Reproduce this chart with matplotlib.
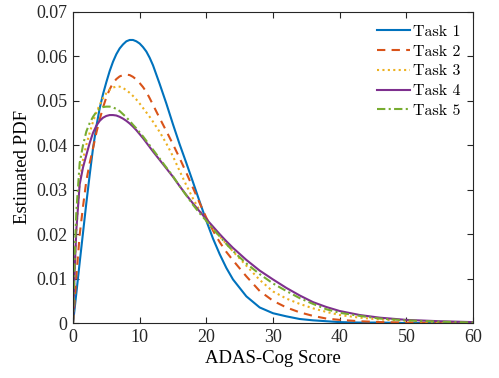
import numpy as np
import matplotlib
matplotlib.use("Agg")
import matplotlib.pyplot as plt

# ADAS-Cog score grid (shared by all curves)
score = [0, 0.25, 0.5, 1, 1.5, 2, 2.5, 3, 3.5, 4, 4.5, 5, 5.5, 6, 6.5, 7,
         7.5, 8, 8.5, 9, 9.5, 10, 10.5, 11, 11.5, 12, 13, 14, 15, 16, 17,
         18, 19, 20, 21, 22, 23, 24, 26, 28, 30, 32, 34, 36, 38, 40, 43,
         46, 50, 55, 60]

# estimated PDF, one list per task
task1 = [0, 0.0033, 0.0067, 0.0136, 0.0203, 0.0270, 0.0333, 0.0393, 0.0442,
         0.0483, 0.0515, 0.0542, 0.0567, 0.0588, 0.0605, 0.0618, 0.0627,
         0.0634, 0.0637, 0.0637, 0.0634, 0.0629, 0.0621, 0.0611, 0.0597,
         0.0580, 0.0538, 0.0494, 0.0447, 0.0402, 0.0360, 0.0317, 0.0273,
         0.0230, 0.0190, 0.0155, 0.0124, 0.0098, 0.0060, 0.0035, 0.0022,
         0.0015, 0.0009, 0.0006, 0.0004, 0.0002, 0.0001, 0.0001, 0, 0, 0]
task2 = [0, 0.0050, 0.0105, 0.0198, 0.0262, 0.0320, 0.0360, 0.0393, 0.0428,
         0.0458, 0.0485, 0.0508, 0.0526, 0.0540, 0.0549, 0.0555, 0.0558,
         0.0559, 0.0558, 0.0554, 0.0548, 0.0540, 0.0531, 0.0520, 0.0506,
         0.0491, 0.0461, 0.0432, 0.0402, 0.0371, 0.0338, 0.0304, 0.0270,
         0.0237, 0.0208, 0.0182, 0.0160, 0.0141, 0.0105, 0.0072, 0.0050,
         0.0035, 0.0024, 0.0016, 0.0010, 0.0007, 0.0004, 0.0002, 0.0001,
         0, 0]
task3 = [0, 0.0120, 0.0210, 0.0318, 0.0368, 0.0401, 0.0428, 0.0453, 0.0474,
         0.0491, 0.0506, 0.0517, 0.0525, 0.0530, 0.0532, 0.0532, 0.0529,
         0.0524, 0.0518, 0.0511, 0.0503, 0.0494, 0.0484, 0.0474, 0.0464,
         0.0453, 0.0430, 0.0404, 0.0375, 0.0342, 0.0310, 0.0280, 0.0253,
         0.0231, 0.0212, 0.0195, 0.0178, 0.0161, 0.0129, 0.0097, 0.0071,
         0.0055, 0.0043, 0.0033, 0.0025, 0.0018, 0.0012, 0.0008, 0.0005,
         0.0002, 0.0001]
task4 = [0, 0.0120, 0.0210, 0.0312, 0.0350, 0.0378, 0.0405, 0.0428, 0.0444,
         0.0455, 0.0462, 0.0466, 0.0468, 0.0468, 0.0467, 0.0464, 0.0460,
         0.0455, 0.0449, 0.0442, 0.0434, 0.0425, 0.0416, 0.0406, 0.0396,
         0.0386, 0.0367, 0.0348, 0.0329, 0.0308, 0.0288, 0.0269, 0.0251,
         0.0234, 0.0217, 0.0200, 0.0184, 0.0169, 0.0142, 0.0118, 0.0098,
         0.0079, 0.0062, 0.0047, 0.0036, 0.0027, 0.0018, 0.0012, 0.0007,
         0.0004, 0.0002]
task5 = [0, 0.0150, 0.0250, 0.0360, 0.0400, 0.0431, 0.0450, 0.0464, 0.0475,
         0.0482, 0.0486, 0.0487, 0.0487, 0.0485, 0.0482, 0.0477, 0.0470,
         0.0463, 0.0455, 0.0446, 0.0438, 0.0429, 0.0420, 0.0410, 0.0400,
         0.0390, 0.0370, 0.0350, 0.0330, 0.0308, 0.0287, 0.0266, 0.0247,
         0.0230, 0.0212, 0.0195, 0.0178, 0.0162, 0.0134, 0.0110, 0.0089,
         0.0072, 0.0056, 0.0043, 0.0031, 0.0023, 0.0016, 0.0010, 0.0006,
         0.0003, 0.0001]

labels = ["Task 1", "Task 2", "Task 3", "Task 4", "Task 5"]
xticks = [0, 10, 20, 30, 40, 50, 60]
yticks = [0, 0.01, 0.02, 0.03, 0.04, 0.05, 0.06, 0.07]
ytick_labels = ["0", "0.01", "0.02", "0.03", "0.04", "0.05", "0.06", "0.07"]

colors = ["#0072BD", "#D95319", "#EDB120", "#7E2F8E", "#77AC30"]
styles = ["-", (0, (4, 3)), (0, (1, 1.6)), "-", (0, (4, 1.6, 1, 1.6))]

fig = plt.figure(figsize=(4.99, 3.78), dpi=100)
ax = fig.add_axes([0.1463, 0.1455, 0.8016, 0.8228])

for ys, lab, c, ls in zip([task1, task2, task3, task4, task5], labels,
                          colors, styles):
    ax.plot(score, ys, color=c, linestyle=ls, linewidth=1.5, label=lab)

ax.set_xlim(0, 60)
ax.set_ylim(0, 0.07)
ax.set_xticks(xticks)
ax.set_yticks(yticks)
ax.set_yticklabels(ytick_labels)

serif = "Liberation Serif"
for t in ax.get_xticklabels() + ax.get_yticklabels():
    t.set_fontfamily(serif)
    t.set_fontsize(13)
ax.set_xlabel("ADAS-Cog Score", fontfamily=serif, fontsize=13.5, labelpad=3)
ax.set_ylabel("Estimated PDF", fontfamily=serif, fontsize=13.5, labelpad=4)

ax.tick_params(direction="in", length=4, width=0.8, color="#262626",
               top=True, right=True, pad=4, labelcolor="#262626")
for sp in ax.spines.values():
    sp.set_color("#262626")
    sp.set_linewidth(0.8)

leg = ax.legend(loc="upper right", frameon=False, handlelength=2.1,
                handletextpad=0.15, labelspacing=0.35,
                borderaxespad=0.4, prop={"family": "cmr10", "size": 11.5})

fig.savefig("out.png", dpi=100)
